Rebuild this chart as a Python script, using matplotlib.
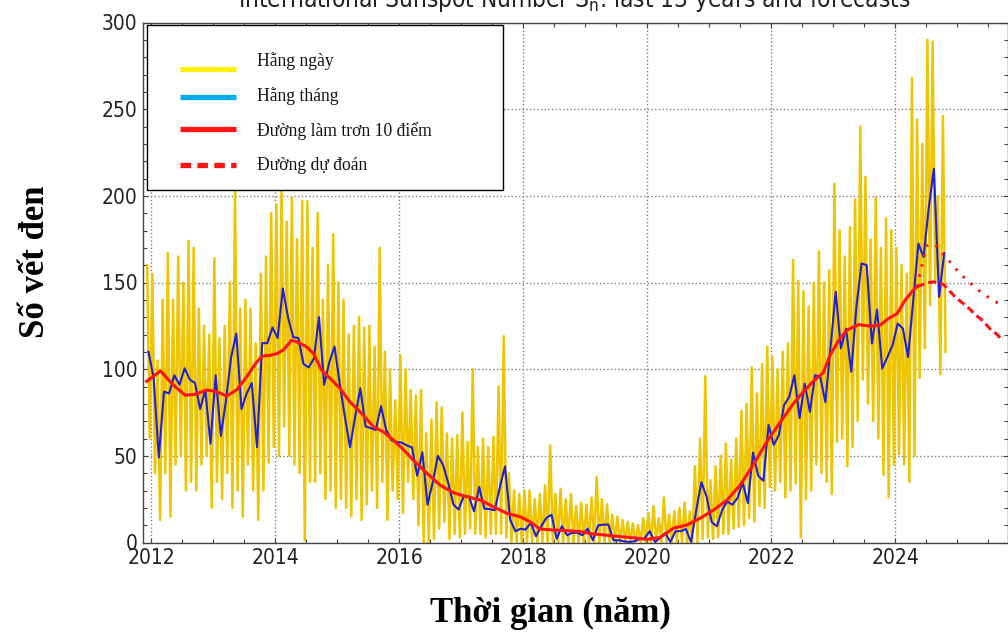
"""Số vết đen mặt trời: hằng ngày, hằng tháng, làm trơn và dự đoán."""
import matplotlib
matplotlib.use('Agg')
import matplotlib.pyplot as plt
import numpy as np
from matplotlib.lines import Line2D
from matplotlib.patches import Rectangle
from matplotlib.ticker import MultipleLocator, FuncFormatter

# ── dữ liệu ───────────────────────────────────────────────────────
FIRST_MONTH = 2011 + 11.5 / 12          # giữa tháng 12/2011

# trung bình hằng tháng (12/2011 -> 10/2024)
monthly = [
    110,
    95, 49, 87, 86, 96.5, 91, 100.5, 94, 92, 77, 88, 57,                       # 2012
    96.5, 61.5, 82, 107, 120.5, 77, 86, 92, 55, 115, 115, 124,                 # 2013
    118, 146.5, 130, 118.5, 118, 103, 101, 106, 130, 91, 104, 113,             # 2014
    92, 72.6, 55, 72.6, 89, 67, 66, 65, 78.7, 65, 59, 58,                      # 2015
    57.6, 56, 54.8, 38.5, 52, 21.8, 34.5, 50, 44.8, 34.5, 22, 19,              # 2016
    26.6, 26.6, 18, 32, 19.5, 19.3, 18.6, 32, 43.9, 13.2, 6.5, 7.9,            # 2017
    7.5, 11.3, 3.6, 9.4, 14.2, 16, 2.1, 9.4, 4.2, 5.6, 5.6, 4.2,               # 2018
    8, 1.3, 9.8, 10.3, 10.3, 1.3, 1.3, 0.7, 0.3, 0.7, 1.9, 2.5,                # 2019
    6.5, 0.3, 2.5, 5.6, 0.3, 6.5, 6.5, 7.8, 0.3, 18.6, 34.7, 26.6,             # 2020
    11.7, 9.4, 18.6, 23.7, 21.8, 25.7, 34.5, 22.7, 51.9, 38.5, 35.6, 67.8,     # 2021
    56.3, 62, 79.3, 84, 96.5, 71.8, 91.7, 75.4, 96.5, 95.5, 81, 113,           # 2022
    144.6, 112, 123.4, 98.5, 136, 161, 160, 114.8, 134.4, 100.4, 107, 113.8,   # 2023
    126.3, 123.4, 107, 140, 172.4, 164.7, 193, 215.6, 141.7, 167,              # 2024
]

# giá trị hằng ngày: đỉnh và đáy trong từng tháng
daily_hi = [
    160, 155, 105, 140, 167, 140, 165, 150, 174, 170, 135, 125,
    120, 164, 118, 125, 150, 203, 135, 140, 135, 115, 155, 165,
    190, 195, 205, 185, 199, 175, 197, 197, 170, 190, 140, 160,
    178, 150, 140, 120, 125, 130, 124, 125, 113, 170, 110, 100,
    82, 108, 100, 88, 85, 88, 63, 71, 81, 78, 63, 60,
    62, 75, 58, 100, 55, 60, 55, 61, 90, 119, 40, 30,
    28, 30, 30, 25, 28, 33, 56, 28, 31, 25, 28, 21,
    23, 22, 26, 38, 25, 22, 16, 15, 13, 12, 11, 10,
    14, 17, 21, 14, 26, 16, 18, 20, 23, 18, 44, 60,
    96, 36, 44, 50, 57, 48, 60, 76, 80, 101, 86, 103,
    113, 107, 100, 110, 115, 163, 151, 145, 136, 150, 168, 150,
    157, 207, 180, 165, 182, 198, 240, 211, 175, 199, 170, 187,
    180, 170, 160, 155, 268, 244, 230, 290, 289, 200, 246,
]
daily_lo = [
    60, 40, 13, 40, 15, 45, 50, 30, 35, 30, 45, 50,
    20, 35, 25, 40, 20, 30, 15, 45, 30, 13, 30, 46,
    55, 50, 67, 50, 45, 40, 1, 35, 35, 40, 25, 30,
    20, 25, 20, 15, 25, 13, 22, 30, 20, 35, 13, 30,
    25, 17, 35, 25, 10, 0, 0, 2, 8, 12, 2, 5,
    3, 5, 8, 5, 5, 3, 5, 5, 5, 3, 0, 0,
    0, 0, 0, 0, 0, 0, 0, 0, 0, 0, 0, 0,
    0, 0, 0, 0, 0, 0, 0, 0, 0, 0, 0, 0,
    0, 0, 0, 0, 0, 0, 0, 0, 0, 0, 0, 2,
    3, 2, 3, 5, 5, 8, 9, 10, 14, 12, 21, 20,
    32, 30, 35, 26, 30, 34, 3, 25, 30, 45, 40, 35,
    28, 58, 60, 44, 55, 70, 94, 80, 70, 60, 39, 26,
    45, 51, 45, 35, 50, 95, 112, 137, 150, 97, 110,
]

# đường làm trơn
smooth_years = [
    2011.93, 2012.15, 2012.36, 2012.55, 2012.71, 2012.90, 2013.06, 2013.22,
    2013.38, 2013.54, 2013.68, 2013.79, 2013.92, 2014.03, 2014.13, 2014.27,
    2014.40, 2014.51, 2014.62, 2014.75, 2014.89, 2015.05, 2015.21, 2015.37,
    2015.59, 2015.75, 2015.91, 2016.07, 2016.23, 2016.45, 2016.66, 2016.88,
    2017.09, 2017.31, 2017.52, 2017.74, 2017.95, 2018.11, 2018.27, 2018.49,
    2018.70, 2018.92, 2019.13, 2019.35, 2019.56, 2019.78, 2019.99, 2020.21,
    2020.42, 2020.64, 2020.85, 2021.07, 2021.29, 2021.50, 2021.71, 2021.93,
    2022.15, 2022.36, 2022.52, 2022.68, 2022.84, 2022.95, 2023.09, 2023.22,
    2023.41, 2023.60, 2023.76, 2023.89, 2024.03, 2024.16, 2024.29, 2024.35,
]
smooth_vals = [
    93, 99, 90.8, 85, 85.5, 88, 87, 84.5,
    88, 95.5, 103, 107.5, 108, 109, 111, 116.7,
    115, 112.8, 109, 99.4, 94.6, 88.8, 81, 75.4,
    66.7, 63.8, 59, 53.6, 47.5, 39.9, 33.1, 28.7,
    26.4, 24.5, 20.6, 16.8, 14.9, 12, 7.8, 7.2,
    6.9, 6.3, 4.9, 4.2, 3.4, 2.8, 1.8, 2.9,
    8.2, 10.1, 13.9, 18.7, 24.5, 33.1, 44.7, 58.1,
    69.6, 80.2, 87, 93, 98, 108, 116.7, 122.5,
    125.7, 124.8, 125.4, 129.2, 132, 139.8, 145.5, 147.5,
]

# dự đoán (phương pháp chuẩn, nét đứt) và (phương pháp kết hợp, chấm)
fc_years = [2024.35, 2024.46, 2024.54, 2024.63, 2024.71, 2024.79, 2024.88,
            2024.96, 2025.04, 2025.13, 2025.21, 2025.29, 2025.38, 2025.46,
            2025.54, 2025.63, 2025.71]
fc_std = [147.5, 149, 150, 150.3, 150, 148.5, 145, 142, 139.5, 137, 134.5,
          131.5, 129, 126, 123, 120.5, 117.5]
fc2_years = [2024.35, 2024.42, 2024.50, 2024.58, 2024.67, 2024.75, 2024.83,
             2024.92, 2025.00, 2025.08, 2025.17, 2025.25, 2025.33, 2025.42,
             2025.50, 2025.58, 2025.67, 2025.75]
fc_comb = [147.5, 158, 171, 172.5, 171, 167.5, 164, 160.5, 157, 154, 151,
           148.5, 146, 143.5, 141.5, 139.5, 138, 136.5]

LEG_LABELS = ["Hằng ngày", "Hằng tháng", "Đường làm trơn 10 điểm", "Đường dự đoán"]

YEL, BLUE, RED = "#EFC400", "#2020D8", "#FF1414"
SERIF = ['Liberation Serif', 'DejaVu Serif']

plt.rcParams['font.family'] = ['DejaVu Sans']
plt.rcParams['font.stretch'] = 'condensed'

W, H = 1008, 634
fig = plt.figure(figsize=(W / 100, H / 100), dpi=100, facecolor="white")
ax = fig.add_axes([143 / W, 1 - 542.5 / H, (W - 143) / W, 520 / H])

t = FIRST_MONTH + np.arange(len(monthly)) / 12
# chuỗi hằng ngày: đỉnh/đáy xen kẽ trong tháng
t_d = np.column_stack([t - 1 / 48, t + 1 / 48]).ravel()
v_d = np.column_stack([daily_hi, daily_lo]).ravel()
ax.plot(t_d, v_d, color=YEL, lw=1.8, zorder=2)
ax.plot(t, monthly, color=BLUE, lw=1.5, zorder=3)
ax.plot(smooth_years, smooth_vals, color=RED, lw=2.2, zorder=4)
ax.plot(fc_years, fc_std, color=RED, lw=2.2, dashes=(2.6, 1.4), zorder=4)
ax.plot(fc2_years, fc_comb, color=RED, lw=2.2, dashes=(0.8, 2.6), zorder=4)

ax.set_xlim(2011.87, 2025.82)
ax.set_ylim(0, 300)
ax.xaxis.set_major_locator(MultipleLocator(2))
ax.xaxis.set_minor_locator(MultipleLocator(0.5))
ax.xaxis.set_major_formatter(FuncFormatter(lambda v, p: f"{v:.0f}"))
ax.yaxis.set_major_locator(MultipleLocator(50))
ax.yaxis.set_minor_locator(MultipleLocator(10))
ax.grid(True, which="major", ls=":", lw=1.0, color="#808080")
ax.tick_params(which="both", direction="in", top=True, right=True,
               color="#444444", labelcolor="#222222", labelsize=15, pad=4)
ax.tick_params(which="major", length=3.8, width=0.8)
ax.tick_params(which="minor", length=3.0, width=0.8)
for s in ax.spines.values():
    s.set_color("#444444")
    s.set_linewidth(1.0)

# tiêu đề gốc (bị cắt ở mép trên)
fig.text(574 / W, 1 - 7.5 / H,
         r"International Sunspot Number $\mathregular{S_n}$: last 13 years and forecasts",
         ha="center", va="baseline", fontsize=17.5, color="#222222")

fig.text(35 / W, 1 - 262 / H, "Số vết đen", rotation=90, ha="center",
         va="center", fontsize=25, fontweight="bold", family=SERIF)
fig.text(550 / W, 1 - 613 / H, "Thời gian (năm)", ha="center", va="center",
         fontsize=25, fontweight="bold", family=SERIF)

# chú giải vẽ tay
fig.add_artist(Rectangle((147 / W, 1 - 190 / H), 356 / W, 165 / H,
                         transform=fig.transFigure, facecolor="white",
                         edgecolor="black", lw=1.0, zorder=5))
leg = [("#FFF200", None, 69), ("#00AEEF", None, 97),
       (RED, None, 129), (RED, (2.0, 1.2), 165)]
for (col, dash, y), lab, ty in zip(leg, LEG_LABELS, [61, 96, 131, 166]):
    ln = Line2D([180 / W, 236 / W], [1 - y / H, 1 - y / H], color=col, lw=3.8,
                transform=fig.transFigure, zorder=6, solid_capstyle="butt")
    if dash:
        ln.set_dashes(dash)
    fig.add_artist(ln)
    fig.text(257 / W, 1 - ty / H, lab, ha="left", va="center", fontsize=12.7,
             family=SERIF, color="#111111", zorder=6)

fig.savefig("out.png", dpi=100)
